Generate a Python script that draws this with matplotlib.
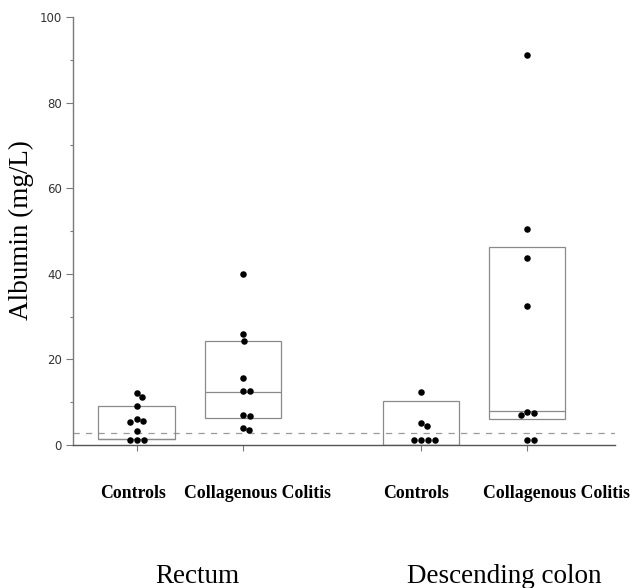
import numpy as np
from matplotlib import pyplot as plt
from matplotlib.patches import Rectangle
from matplotlib.transforms import blended_transform_factory

# data (mg/L)
regions = ['Rectum', 'Descending colon']
groups = ['Controls', 'Collagenous Colitis']

rectum_controls = [12.2, 11.2, 9.1, 6.1, 5.6, 5.4, 3.3, 1.2, 1.2, 1.2]
rectum_colitis = [40.0, 25.9, 24.3, 15.7, 12.6, 12.6, 7.0, 6.8, 4.0, 3.6]
descending_controls = [12.4, 5.1, 4.5, 1.2, 1.2, 1.2, 1.2]
descending_colitis = [91.1, 50.5, 43.7, 32.5, 7.7, 7.4, 7.0, 1.2, 1.2]

box_low = [1.5, 6.3, 0.0, 6.1]
box_median = [1.5, 12.4, 0.0, 8.0]
box_high = [9.0, 24.4, 10.3, 46.2]

reference_limit = 2.7

y_ticks = [0, 20, 40, 60, 80, 100]
y_label = 'Albumin (mg/L)'

series = [rectum_controls, rectum_colitis, descending_controls, descending_colitis]

# layout
region_gap = 2.68
box_width = 0.72
dot_diameter = 7.0  # pixels
label_shift = [-0.03, 0.14, -0.05, 0.28]
region_shift = [0.07, 0.29]

box_color = '#8a8a8a'
axis_color = '#7a7a7a'
serif = ['Liberation Serif', 'DejaVu Serif']

plt.rcParams['font.family'] = ['DejaVu Sans']

fig = plt.figure(figsize=(6.32, 5.88), dpi=100)
ax = fig.add_axes([73 / 632, 1 - 445 / 588, 542 / 632, 428 / 588])
ax.set_xlim(0.4, 5.51)
ax.set_ylim(0, 100)

positions = [r * region_gap + g + 1 for r in range(len(regions)) for g in range(len(groups))]


def swarm_offsets(x0, values):
    # simple beeswarm in display space so dots do not overlap
    trans = ax.transData
    px_per_x = trans.transform((1, 0))[0] - trans.transform((0, 0))[0]
    ys = np.array([trans.transform((x0, v))[1] for v in values])
    offsets = np.zeros(len(values))
    placed = []
    for i in np.argsort(-np.array(values), kind='stable'):
        y = ys[i]
        candidates = [0.0]
        for px, py in placed:
            dy = y - py
            if abs(dy) < dot_diameter:
                dx = np.sqrt(dot_diameter ** 2 - dy ** 2)
                candidates += [px + dx, px - dx]
        candidates.sort(key=abs)
        for c in candidates:
            if all((c - px) ** 2 + (y - py) ** 2 >= dot_diameter ** 2 - 1e-6 for px, py in placed):
                offsets[i] = c
                placed.append((c, y))
                break
    return offsets / px_per_x


for x0, values, lo, med, hi in zip(positions, series, box_low, box_median, box_high):
    ax.add_patch(Rectangle((x0 - box_width / 2, lo), box_width, hi - lo,
                           fill=False, edgecolor=box_color, linewidth=0.9, zorder=2))
    ax.hlines(med, x0 - box_width / 2, x0 + box_width / 2, color=box_color, linewidth=0.9, zorder=2)
    offsets = swarm_offsets(x0, values)
    ax.scatter(x0 + offsets, values, s=22, color='black', linewidths=0, zorder=4, clip_on=False)

ax.axhline(reference_limit, color='#9a9a9a', linestyle=(0, (5, 5)), linewidth=0.9, zorder=1)

for side in ['top', 'right']:
    ax.spines[side].set_visible(False)
ax.spines['left'].set_color(axis_color)
ax.spines['bottom'].set_color('#555555')
ax.spines['left'].set_linewidth(1.0)
ax.spines['bottom'].set_linewidth(1.0)

ax.set_yticks(y_ticks)
ax.set_yticks([10, 30, 50, 70, 90], minor=True)
ax.tick_params(axis='y', which='major', length=5, width=0.8, color=axis_color,
               labelsize=8.5, labelcolor='#333333', pad=3)
ax.tick_params(axis='y', which='minor', length=2.5, width=0.8, color=axis_color)

ax.set_xticks(positions)
ax.set_xticklabels([])
ax.tick_params(axis='x', length=4, width=0.8, color=axis_color)

# category and region labels: x in data units, y in figure units
label_trans = blended_transform_factory(ax.transData, fig.transFigure)
for x0, shift, name in zip(positions, label_shift, groups * len(regions)):
    ax.text(x0 + shift, 1 - 498 / 588, name, transform=label_trans,
            ha='center', va='baseline', fontsize=12.8, fontweight='bold', family=serif)

for r, name in enumerate(regions):
    center = np.mean(positions[r * len(groups):(r + 1) * len(groups)])
    ax.text(center + region_shift[r], 1 - 583 / 588, name, transform=label_trans,
            ha='center', va='baseline', fontsize=19.5, family=serif)

fig.text(21 / 632, 1 - 230 / 588, y_label, rotation=90, ha='center', va='center',
         fontsize=19.5, family=serif)

plt.savefig('out.png', dpi=100)
